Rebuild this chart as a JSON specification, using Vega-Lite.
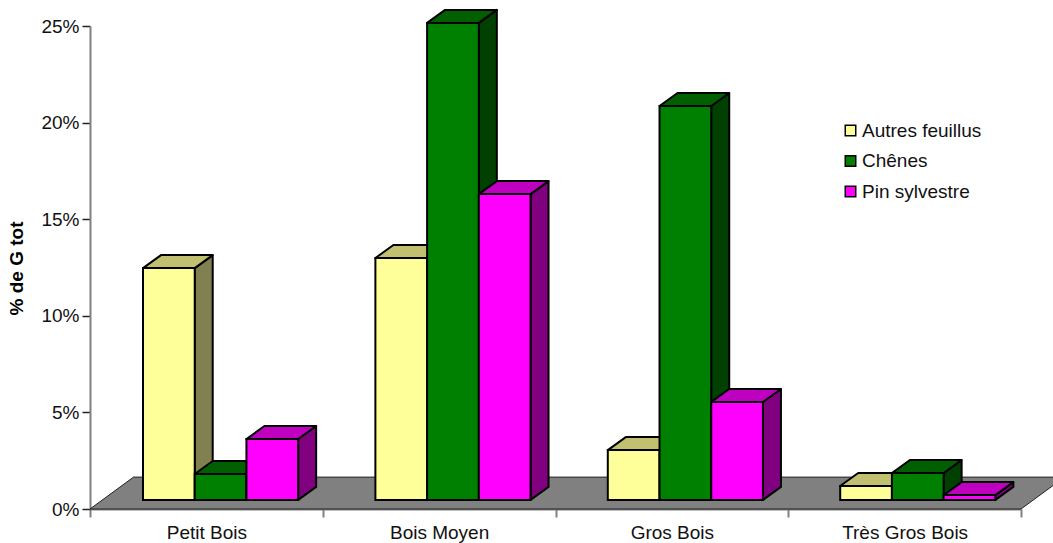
{
"$schema":"https://vega.github.io/schema/vega-lite/v6.json",
"width":931,"height":483,
"autosize":{"type":"none"},
"padding":{"left":90,"top":26,"right":32,"bottom":34},
"background":"white",
"config":{"view":{"stroke":null},"font":"Liberation Sans"},
"data":{"values":[
{"category":"Petit Bois","series":"Autres feuillus","value":12.47},
{"category":"Petit Bois","series":"Chênes","value":1.81},
{"category":"Petit Bois","series":"Pin sylvestre","value":3.62},
{"category":"Bois Moyen","series":"Autres feuillus","value":12.99},
{"category":"Bois Moyen","series":"Chênes","value":25.16},
{"category":"Bois Moyen","series":"Pin sylvestre","value":16.3},
{"category":"Gros Bois","series":"Autres feuillus","value":3.05},
{"category":"Gros Bois","series":"Chênes","value":20.86},
{"category":"Gros Bois","series":"Pin sylvestre","value":5.54},
{"category":"Très Gros Bois","series":"Autres feuillus","value":1.19},
{"category":"Très Gros Bois","series":"Chênes","value":1.86},
{"category":"Très Gros Bois","series":"Pin sylvestre","value":0.72}
]},
"transform":[
{"calculate":"0.9985*indexof(['Petit Bois','Bois Moyen','Gros Bois','Très Gros Bois'],datum.category)+0.2277+0.2222*indexof(['Autres feuillus','Chênes','Pin sylvestre'],datum.series)","as":"left"},
{"calculate":"datum.left+0.2222","as":"right"},
{"calculate":"0.47","as":"base"},
{"calculate":"datum.category+datum.series","as":"id"}
],
"layer":[
{"data":{"values":[{"k":0},{"k":1}]},
 "transform":[{"calculate":"datum.k*1.65","as":"fy"},{"calculate":"datum.k*0.187","as":"fx"},{"calculate":"4+datum.k*0.187","as":"fx2"}],
 "mark":{"type":"area","orient":"horizontal","fill":"#808080","stroke":"#222222","strokeWidth":1},
 "encoding":{
  "y":{"field":"fy","type":"quantitative","scale":{"domain":[0,25],"nice":false},
   "axis":{"values":[0,5,10,15,20,25],"labelExpr":"datum.value+'%'","title":"% de G tot","titleFontSize":19,"titleFontWeight":"bold","titleColor":"black","titleX":-64,"titleY":242,"titleFont":"Liberation Sans","labelFontSize":19,"labelColor":"#111111","labelFont":"Liberation Sans","domainColor":"#808080","domainWidth":2,"tickColor":"#222222","tickSize":8,"tickWidth":1.5,"labelPadding":3,"grid":false}},
  "x":{"field":"fx","type":"quantitative","scale":{"domain":[0,4],"nice":false,"zero":false},
   "axis":{"values":[0,0.5,1,1.5,2,2.5,3,3.5,4],"labelExpr":"datum.value==0.5?'Petit Bois':datum.value==1.5?'Bois Moyen':datum.value==2.5?'Gros Bois':datum.value==3.5?'Très Gros Bois':''","title":null,"labelFontSize":19,"labelColor":"#111111","labelFont":"Liberation Sans","labelPadding":6,"labelOverlap":false,"labelFlush":false,"domainColor":"#808080","domainWidth":2,"tickColor":"#808080","tickSize":8,"tickWidth":2,"tickOpacity":{"condition":{"test":"datum.value%1===0","value":1},"value":0},"grid":false}},
  "x2":{"field":"fx2"}
 }},
{"transform":[{"calculate":"[0,1]","as":"k"},{"flatten":["k"]},
  {"calculate":"datum.right+datum.k*0.0773","as":"sx"},
  {"calculate":"datum.base+datum.k*0.673","as":"sy"},
  {"calculate":"datum.value+datum.k*0.673","as":"sy2"}],
 "mark":{"type":"area","orient":"vertical","stroke":"black","strokeWidth":2,"strokeJoin":"round"},
 "encoding":{
  "x":{"field":"sx","type":"quantitative"},
  "y":{"field":"sy2","type":"quantitative"},
  "y2":{"field":"sy"},
  "detail":{"field":"id"},
  "color":{"field":"series","type":"nominal","legend":null,"scale":{"domain":["Autres feuillus","Chênes","Pin sylvestre"],"range":["#808050","#004000","#800080"]}}
 }},
{"transform":[{"calculate":"[0,1]","as":"k"},{"flatten":["k"]},
  {"calculate":"datum.left+datum.k*0.0773","as":"tx"},
  {"calculate":"datum.right+datum.k*0.0773","as":"tx2"},
  {"calculate":"datum.value+datum.k*0.673","as":"ty"}],
 "mark":{"type":"area","orient":"horizontal","stroke":"black","strokeWidth":2,"strokeJoin":"round"},
 "encoding":{
  "y":{"field":"ty","type":"quantitative"},
  "x":{"field":"tx","type":"quantitative"},
  "x2":{"field":"tx2"},
  "detail":{"field":"id"},
  "color":{"field":"series","type":"nominal","legend":null,"scale":{"domain":["Autres feuillus","Chênes","Pin sylvestre"],"range":["#C0C070","#006000","#C000C0"]}}
 }},
{"mark":{"type":"rect","stroke":"black","strokeWidth":2},
 "encoding":{
  "x":{"field":"left","type":"quantitative"},
  "x2":{"field":"right"},
  "y":{"field":"value","type":"quantitative"},
  "y2":{"field":"base"},
  "color":{"field":"series","type":"nominal","scale":{"domain":["Autres feuillus","Chênes","Pin sylvestre"],"range":["#FFFF99","#008000","#FF00FF"]},
   "legend":{"title":null,"orient":"none","legendX":751,"legendY":95,"symbolType":"square","symbolSize":110,"symbolStrokeColor":"black","symbolStrokeWidth":1.5,"labelFontSize":19,"labelColor":"#111111","labelFont":"Liberation Sans","labelOffset":2,"rowPadding":10.5,"padding":0}}
 }}
],
"resolve":{"scale":{"color":"independent"}}
}
